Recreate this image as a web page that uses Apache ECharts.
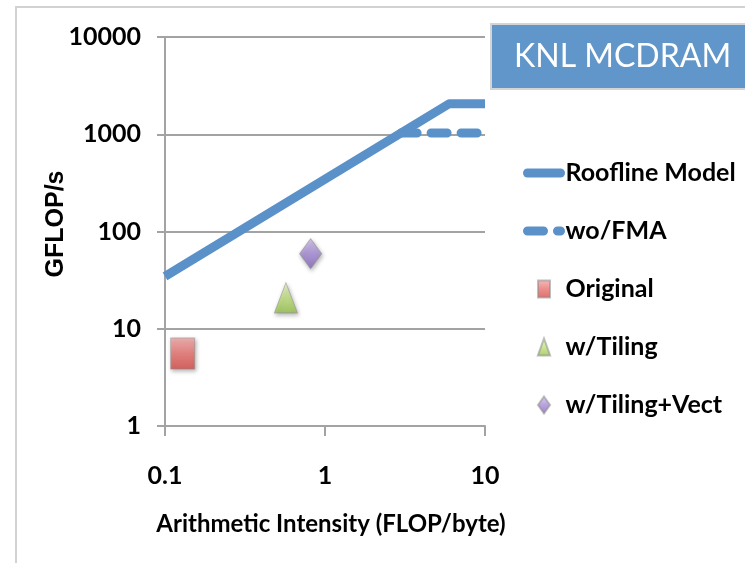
<!DOCTYPE html>
<html>
<head>
<meta charset="utf-8">
<script src="https://cdn.jsdelivr.net/npm/echarts@6/dist/echarts.min.js"></script>
<style>
  html, body { margin: 0; padding: 0; background: #ffffff; }
  #chart { width: 745px; height: 563px; }
</style>
</head>
<body>
<div id="chart"></div>
<script>
// Roofline ceilings: arithmetic intensity (FLOP/byte) vs. attainable GFLOP/s
const rooflineAI = [0.1, 5.97, 10];
const rooflinePerf = [34.5, 2060, 2060];
const noFmaAI = [2.99, 10];
const noFmaPerf = [1030, 1030];

// Measured kernel versions
const kernelNames = ['Original', 'w/Tiling', 'w/Tiling+Vect'];
const kernelAI = [0.129, 0.57, 0.813];
const kernelPerf = [5.56, 20.8, 59];

// Axis tick labels
const xTickLabels = ['0.1', '1', '10'];
const yTickLabels = ['1', '10', '100', '1000', '10000'];

const BLUE = '#5b91c9';
const GRID_GRAY = '#a3a3a3';
const FONT = 'Lato, "Open Sans", sans-serif';

const pairs = (xs, ys) => xs.map((x, i) => [x, ys[i]]);

function vGrad(stops) {
  return new echarts.graphic.LinearGradient(0, 0, 0, 1,
    stops.map((c, i) => ({ offset: i / (stops.length - 1), color: c })));
}

const kernelStyles = [
  { symbol: 'rect', size: [24, 31], icon: 'path://M0,0H12V17H0Z',
    color: vGrad(['#f5aaa8', '#e8716e', '#d64a46']) },
  { symbol: 'triangle', size: [23, 30], icon: 'path://M6.5,0L13,18H0Z',
    color: vGrad(['#eaf7cc', '#bfe07c', '#97c24a']) },
  { symbol: 'diamond', size: [22, 30], icon: 'path://M6,0L12,8.5L6,17L0,8.5Z',
    color: vGrad(['#d3c3ef', '#a68bd6', '#8466bd']) }
];

const fmt = (labels, ticks) => (v) => {
  const i = ticks.findIndex(t => Math.abs(Math.log10(t) - Math.log10(v)) < 1e-6);
  return i >= 0 ? labels[i] : '';
};

const chart = echarts.init(document.getElementById('chart'), null, { renderer: 'canvas' });

const kernelSeries = kernelNames.map((name, i) => ({
  type: 'scatter',
  name: name,
  data: [[kernelAI[i], kernelPerf[i]]],
  symbol: kernelStyles[i].symbol,
  symbolSize: kernelStyles[i].size,
  itemStyle: {
    color: kernelStyles[i].color,
    borderColor: 'rgba(140,140,140,0.7)',
    borderWidth: 1,
    shadowColor: 'rgba(0,0,0,0.35)',
    shadowBlur: 4,
    shadowOffsetX: 1,
    shadowOffsetY: 2
  },
  z: 4,
  silent: true
}));

// line legend entries: plain stroke, no marker in the middle
const lineLegendItem = (name) => ({
  name: name,
  lineStyle: { width: 9, cap: 'round' },
  itemStyle: { color: 'rgba(0,0,0,0)', borderWidth: 0, opacity: 0 }
});

chart.setOption({
  animation: false,
  backgroundColor: '#ffffff',
  graphic: [
    {
      type: 'rect',
      shape: { x: 16, y: 7, width: 800, height: 600 },
      style: { fill: 'none', stroke: '#d2d2d2', lineWidth: 2 },
      silent: true,
      z: -10
    },
    {
      // vertical axis title
      type: 'text',
      x: 56,
      y: 224,
      rotation: Math.PI / 2,
      style: {
        text: 'GFLOP/s',
        align: 'center',
        verticalAlign: 'middle',
        fill: '#000000',
        font: 'bold 25px "Liberation Sans", Arial, sans-serif'
      },
      silent: true
    }
  ],
  title: {
    text: 'KNL MCDRAM',
    left: 491,
    top: 24,
    backgroundColor: '#6096c9',
    borderColor: '#d4d4d4',
    borderWidth: 2,
    padding: [16, 60, 16, 23],
    textStyle: {
      color: '#ffffff',
      fontFamily: FONT,
      fontWeight: 'normal',
      fontSize: 32,
      lineHeight: 33
    }
  },
  legend: {
    orient: 'vertical',
    left: 523,
    top: 159,
    padding: 0,
    itemWidth: 33,
    itemHeight: 17,
    itemGap: 30,
    selectedMode: false,
    textStyle: {
      fontFamily: FONT,
      fontWeight: 'bold',
      fontSize: 25,
      lineHeight: 28,
      color: '#000000'
    },
    data: [
      lineLegendItem('Roofline Model'),
      lineLegendItem('wo/FMA'),
      ...kernelNames.map((n, i) => ({ name: n, icon: kernelStyles[i].icon }))
    ]
  },
  grid: { left: 165, top: 37, width: 320, height: 389, containLabel: false },
  xAxis: {
    type: 'log',
    logBase: 10,
    min: 0.1,
    max: 10,
    name: 'Arithmetic Intensity (FLOP/byte)',
    nameLocation: 'middle',
    nameGap: 86,
    nameTextStyle: {
      fontFamily: FONT, fontWeight: 'bold', fontSize: 24, color: '#000000',
      padding: [0, 0, 0, 12]
    },
    axisLine: { show: true, lineStyle: { color: GRID_GRAY, width: 2 } },
    axisTick: { show: true, length: 10, lineStyle: { color: GRID_GRAY, width: 2 } },
    minorTick: { show: false },
    splitLine: { show: false },
    axisLabel: {
      margin: 37,
      fontFamily: FONT, fontWeight: 'bold', fontSize: 25, color: '#000000',
      formatter: fmt(xTickLabels, [0.1, 1, 10])
    }
  },
  yAxis: {
    type: 'log',
    logBase: 10,
    min: 1,
    max: 10000,
    axisLine: { show: true, lineStyle: { color: GRID_GRAY, width: 2 } },
    axisTick: { show: true, length: 8, lineStyle: { color: GRID_GRAY, width: 2 } },
    splitLine: { show: true, lineStyle: { color: GRID_GRAY, width: 2 } },
    axisLabel: {
      margin: 24,
      padding: [8, 0, 0, 0],
      fontFamily: FONT, fontWeight: 'bold', fontSize: 25, color: '#000000',
      formatter: fmt(yTickLabels, [1, 10, 100, 1000, 10000])
    }
  },
  series: [
    {
      type: 'line',
      name: 'Roofline Model',
      data: pairs(rooflineAI, rooflinePerf),
      symbol: 'none',
      lineStyle: { color: BLUE, width: 9, cap: 'butt', join: 'round' },
      itemStyle: { color: BLUE },
      z: 3,
      silent: true
    },
    {
      type: 'line',
      name: 'wo/FMA',
      data: pairs(noFmaAI, noFmaPerf),
      symbol: 'none',
      lineStyle: { color: BLUE, width: 9, type: [16, 14], cap: 'round' },
      itemStyle: { color: BLUE },
      z: 2,
      silent: true
    },
    ...kernelSeries
  ]
});
</script>
</body>
</html>
